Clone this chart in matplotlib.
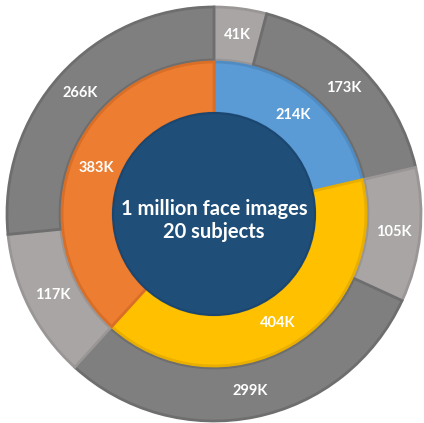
import matplotlib.pyplot as plt
import numpy as np

# inner ring: groups, outer ring: split of each group
inner_vals = [214, 404, 383]
inner_labels = ["214K", "404K", "383K"]
outer_vals = [41, 173, 105, 299, 117, 266]
outer_labels = ["41K", "173K", "105K", "299K", "117K", "266K"]
center_text = "1 million face images\n20 subjects"

inner_colors = ["#5B9BD5", "#FFC000", "#ED7D31"]
inner_edges = ["#4F8CC4", "#E8AE00", "#D96E27"]
outer_colors = ["#A9A5A5", "#7F7F7F"] * 3
outer_edges = ["#9A9696", "#6E6E6E"] * 3

plt.rcParams["font.family"] = ["Lato", "DejaVu Sans"]

fig = plt.figure(figsize=(4.24, 4.23), dpi=100)
ax = fig.add_axes([0, 0, 1, 1])

R = 207.0  # outer radius in px
ax.set_aspect("equal")
ax.axis("off")

r_in_out, r_in_in = 152 / R, 101 / R
r_out_out, r_out_in = 1.0, 154 / R


def ring(vals, labels, colors, edges, r_outer, r_inner):
    wedges, _ = ax.pie(
        vals, radius=r_outer, startangle=90, counterclock=False, colors=colors,
        wedgeprops=dict(width=r_outer - r_inner, linewidth=2.0),
    )
    for w, ec, lab in zip(wedges, edges, labels):
        w.set_edgecolor(ec)
        ang = np.deg2rad((w.theta1 + w.theta2) / 2)
        rm = (r_outer + r_inner) / 2
        ax.text(rm * np.cos(ang), rm * np.sin(ang), lab, ha="center", va="center",
                color="white", fontsize=10.5, fontweight="bold")


ring(outer_vals, outer_labels, outer_colors, outer_edges, r_out_out, r_out_in)
ring(inner_vals, inner_labels, inner_colors, inner_edges, r_in_out, r_in_in)

ax.add_patch(plt.Circle((0, 0), r_in_in, facecolor="#1F4E79", edgecolor="#1B4670", lw=1.5))
ax.text(0, -0.03, center_text, ha="center", va="center", color="white",
        fontsize=14.5, fontweight="bold", linespacing=1.2)

ax.set_xlim(-214 / R, 210 / R)
ax.set_ylim(-209 / R, 214 / R)

fig.savefig("out.png", dpi=100)
